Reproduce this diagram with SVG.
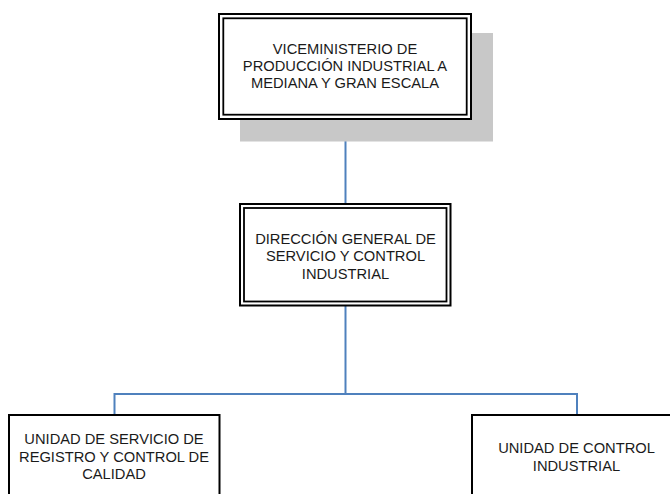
<svg xmlns="http://www.w3.org/2000/svg" width="670" height="494" viewBox="0 0 670 494">
<style>
.outer{fill:#fff;stroke:#000;stroke-width:2}
.inner{fill:none;stroke:#000;stroke-width:1.8}
.single{fill:#fff;stroke:#000;stroke-width:2}
.shadow{fill:#c8c8c8}
.conn{fill:none;stroke:#4f81bd;stroke-width:2}
text{font-family:"Liberation Sans",Arial,sans-serif;font-size:14.7px;fill:#1a1a1a;text-anchor:middle}
</style>
<rect width="670" height="494" fill="#fff"/>
<g id="connectors">
<line class="conn" x1="345.5" y1="119" x2="345.5" y2="204"/>
<polyline class="conn" points="345.5,306 345.5,394"/>
<polyline class="conn" points="114.5,415 114.5,394 577,394 577,415"/>
</g>
<g id="viceministerio">
<rect class="shadow" x="240" y="33" width="253" height="108.5"/>
<rect class="outer" x="219" y="14" width="252" height="105"/>
<rect class="inner" x="223.3" y="18.3" width="243.4" height="96.4"/>
<text x="345" y="53.5">VICEMINISTERIO DE</text>
<text x="345" y="70.5">PRODUCCIÓN INDUSTRIAL A</text>
<text x="345" y="87.5">MEDIANA Y GRAN ESCALA</text>
</g>
<g id="direccion">
<rect class="outer" x="240" y="204" width="210.5" height="101.5"/>
<rect class="inner" x="244" y="208" width="202.5" height="93.5"/>
<text x="345.5" y="243.5">DIRECCIÓN GENERAL DE</text>
<text x="345.5" y="261">SERVICIO Y CONTROL</text>
<text x="345.5" y="278.5">INDUSTRIAL</text>
</g>
<g id="unidad-registro">
<rect class="single" x="9" y="415" width="210.5" height="90"/>
<text x="114" y="444">UNIDAD DE SERVICIO DE</text>
<text x="114" y="461.5">REGISTRO Y CONTROL DE</text>
<text x="114" y="479">CALIDAD</text>
</g>
<g id="unidad-control">
<rect class="single" x="472" y="415" width="210" height="90"/>
<text x="576.5" y="453">UNIDAD DE CONTROL</text>
<text x="576.5" y="470.5">INDUSTRIAL</text>
</g>
</svg>
